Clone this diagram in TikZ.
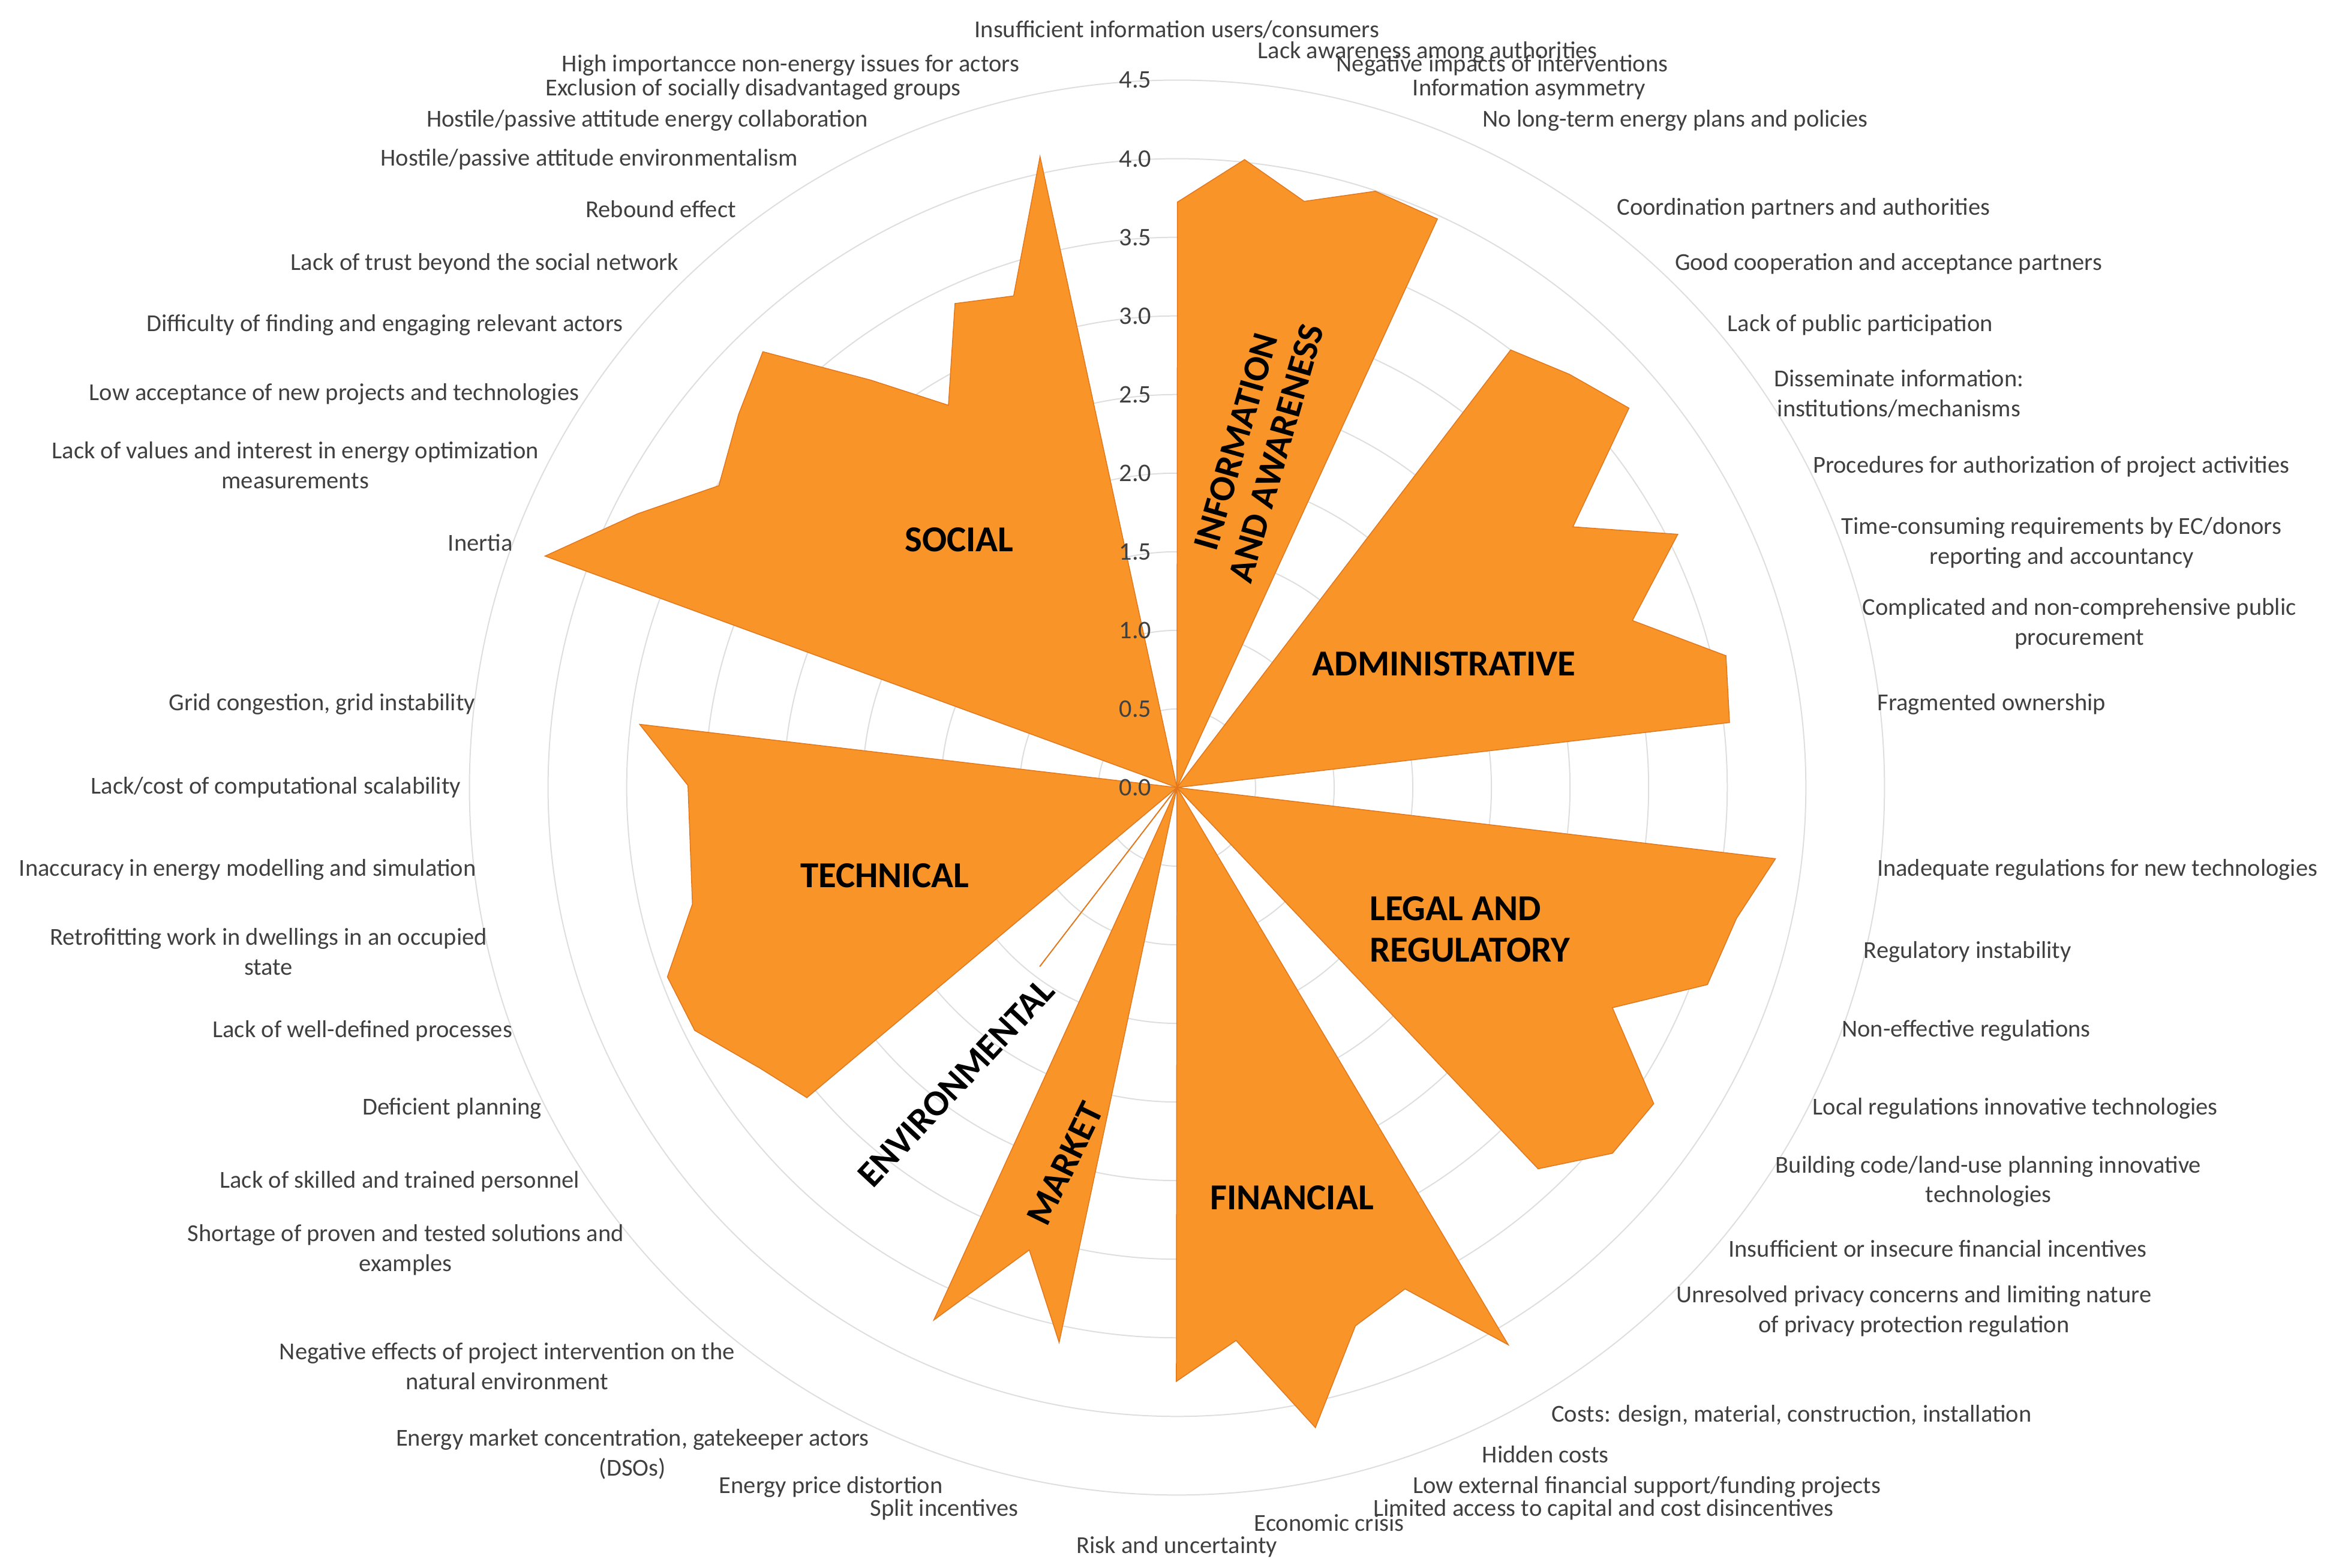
\documentclass[tikz,border=0pt]{standalone}
\usepackage{fontspec}
\setmainfont{Carlito}
\definecolor{org}{RGB}{248,148,40}
\definecolor{orgl}{RGB}{225,120,30}
\definecolor{lab}{RGB}{64,64,64}
\definecolor{grd}{RGB}{222,222,222}
\begin{document}
\begin{tikzpicture}[x=1pt,y=-1pt,
  lbl/.style={font=\fontsize{16.3}{20}\selectfont, text=lab, align=center, inner sep=0pt},
  tick/.style={font=\fontsize{17}{19}\selectfont, text=lab, anchor=east, inner sep=0pt},
  ttl/.style={font=\fontsize{24.5}{28}\selectfont\bfseries, text=black, align=center, inner sep=0pt},
  sector/.style={fill=org, draw=orgl, line width=0.6pt, line join=miter}]
\useasboundingbox (0,0) rectangle (1568,1051);
\coordinate (C) at (789,528);
\foreach \k in {1,...,9} \draw[grd, line width=0.8pt] (C) circle[radius=\k*52.7];
% sectors
\draw[sector] (C) -- (789.3,135.5) -- (834.3,107) -- (874.3,135) -- (922,128.2) -- (963.6,146.8) -- cycle;
\draw[sector] (C) -- (1012.7,234.6) -- (1052,250.9) -- (1092,273.6) -- (1054.4,353.2) -- (1124.7,358.2) -- (1094.3,416) -- (1157,439.6) -- (1159.4,484.4) -- cycle;
\draw[sector] (C) -- (1190.2,575.7) -- (1164,615.8) -- (1144.6,660.1) -- (1080.9,675.6) -- (1108.6,739.9) -- (1080.9,773.2) -- (1031.1,783.6) -- cycle;
\draw[sector] (C) -- (1011.1,901.6) -- (941.9,864.1) -- (908.6,888.9) -- (881.8,957.1) -- (828.6,898.7) -- (788.6,926.1) -- cycle;
\draw[sector] (C) -- (710,900) -- (690,838) -- (626,885) -- cycle;
\draw[orgl, line width=0.8pt] (C) -- (697,648);
\draw[sector] (C) -- (540.9,735.9) -- (509.9,716.4) -- (465.7,690.8) -- (447.4,654.9) -- (464.2,606.1) -- (461.2,526.6) -- (428.8,485.6) -- cycle;
\draw[sector] (C) -- (365.4,372.8) -- (427.3,344.5) -- (481.9,325.6) -- (495.1,277.9) -- (511.4,235.8) -- (583.6,254.8) -- (635.8,271.7) -- (640.2,203.5) -- (679.5,198.4) -- (697.2,105) -- cycle;
% ticks
\foreach \v [count=\i from 0] in {0.0,0.5,1.0,1.5,2.0,2.5,3.0,3.5,4.0,4.5}
  \node[tick] (t\i) at (772,528-\i*52.7) {\v};
% titles
\node[ttl, rotate=74] (tinfo) at (842,300) {INFORMATION\\AND AWARENESS};
\node[ttl] (tadm) at (968,445) {ADMINISTRATIVE};
\node[ttl, align=left, anchor=west] (tleg) at (918,623) {LEGAL AND\\REGULATORY};
\node[ttl] (tfin) at (866,803) {FINANCIAL};
\node[ttl] (tsoc) at (643,362) {SOCIAL};
\node[ttl] (ttec) at (593,587) {TECHNICAL};
\node[ttl, rotate=47] (tenv) at (641,726) {ENVIRONMENTAL};
\node[ttl, rotate=64] (tmar) at (714,780) {MARKET};
% axis labels
\node[lbl] (l1) at (789,20) {Insufficient information users/consumers};
\node[lbl] (l2) at (957,35) {Lack awareness among authorities};
\node[lbl] (l3) at (1007,44) {Negative impacts of interventions};
\node[lbl] (l4) at (1025,60) {Information asymmetry};
\node[lbl] (l5) at (1123,81) {No long-term energy plans and policies};
\node[lbl] (l6) at (1209,140) {Coordination partners and authorities};
\node[lbl] (l7) at (1266,177) {Good cooperation and acceptance partners};
\node[lbl] (l8) at (1247,218) {Lack of public participation};
\node[lbl] (l9) at (1273,264) {Disseminate information:\\institutions/mechanisms};
\node[lbl] (l10) at (1375,313) {Procedures for authorization of project activities};
\node[lbl] (l11) at (1382,364) {Time-consuming requirements by EC/donors\\reporting and accountancy};
\node[lbl] (l12) at (1394,418) {Complicated and non-comprehensive public\\procurement};
\node[lbl] (l13) at (1335,472) {Fragmented ownership};
\node[lbl] (l14) at (1406,583) {Inadequate regulations for new technologies};
\node[lbl] (l15) at (1319,638) {Regulatory instability};
\node[lbl] (l16) at (1318,691) {Non-effective regulations};
\node[lbl] (l17) at (1351,743) {Local regulations innovative technologies};
\node[lbl] (l18) at (1333,792) {Building code/land-use planning innovative\\technologies};
\node[lbl] (l19) at (1299,837) {Insufficient or insecure financial incentives};
\node[lbl] (l20) at (1283,879) {Unresolved privacy concerns and limiting nature\\of privacy protection regulation};
\node[lbl] (l21) at (1201,949) {Costs: design, material, construction, installation};
\node[lbl] (l22) at (1036,975) {Hidden costs};
\node[lbl] (l23) at (1104,997) {Low external financial support/funding projects};
\node[lbl] (l24) at (1075,1012) {Limited access to capital and cost disincentives};
\node[lbl] (l25) at (891,1021) {Economic crisis};
\node[lbl] (l26) at (789,1037) {Risk and uncertainty};
\node[lbl] (l27) at (633,1012) {Split incentives};
\node[lbl] (l28) at (557,997) {Energy price distortion};
\node[lbl] (l29) at (424,975) {Energy market concentration, gatekeeper actors\\(DSOs)};
\node[lbl] (l30) at (340,916) {Negative effects of project intervention on the\\natural environment};
\node[lbl] (l31) at (272,838) {Shortage of proven and tested solutions and\\examples};
\node[lbl] (l32) at (268,792) {Lack of skilled and trained personnel};
\node[lbl] (l33) at (303,743) {Deficient planning};
\node[lbl] (l34) at (243,691) {Lack of well-defined processes};
\node[lbl] (l35) at (180,638) {Retrofitting work in dwellings in an occupied\\state};
\node[lbl] (l36) at (166,583) {Inaccuracy in energy modelling and simulation};
\node[lbl] (l37) at (185,528) {Lack/cost of computational scalability};
\node[lbl] (l38) at (216,472) {Grid congestion, grid instability};
\node[lbl] (l39) at (322,364) {Inertia};
\node[lbl] (l40) at (198,312) {Lack of values and interest in energy optimization\\measurements};
\node[lbl] (l41) at (224,264) {Low acceptance of new projects and technologies};
\node[lbl] (l42) at (258,218) {Difficulty of finding and engaging relevant actors};
\node[lbl] (l43) at (325,177) {Lack of trust beyond the social network};
\node[lbl] (l44) at (443,140) {Rebound effect};
\node[lbl] (l45) at (395,107) {Hostile/passive attitude environmentalism};
\node[lbl] (l46) at (434,81) {Hostile/passive attitude energy collaboration};
\node[lbl] (l47) at (505,60) {Exclusion of socially disadvantaged groups};
\node[lbl] (l48) at (530,44) {High importancce non-energy issues for actors};
\end{tikzpicture}
\end{document}
